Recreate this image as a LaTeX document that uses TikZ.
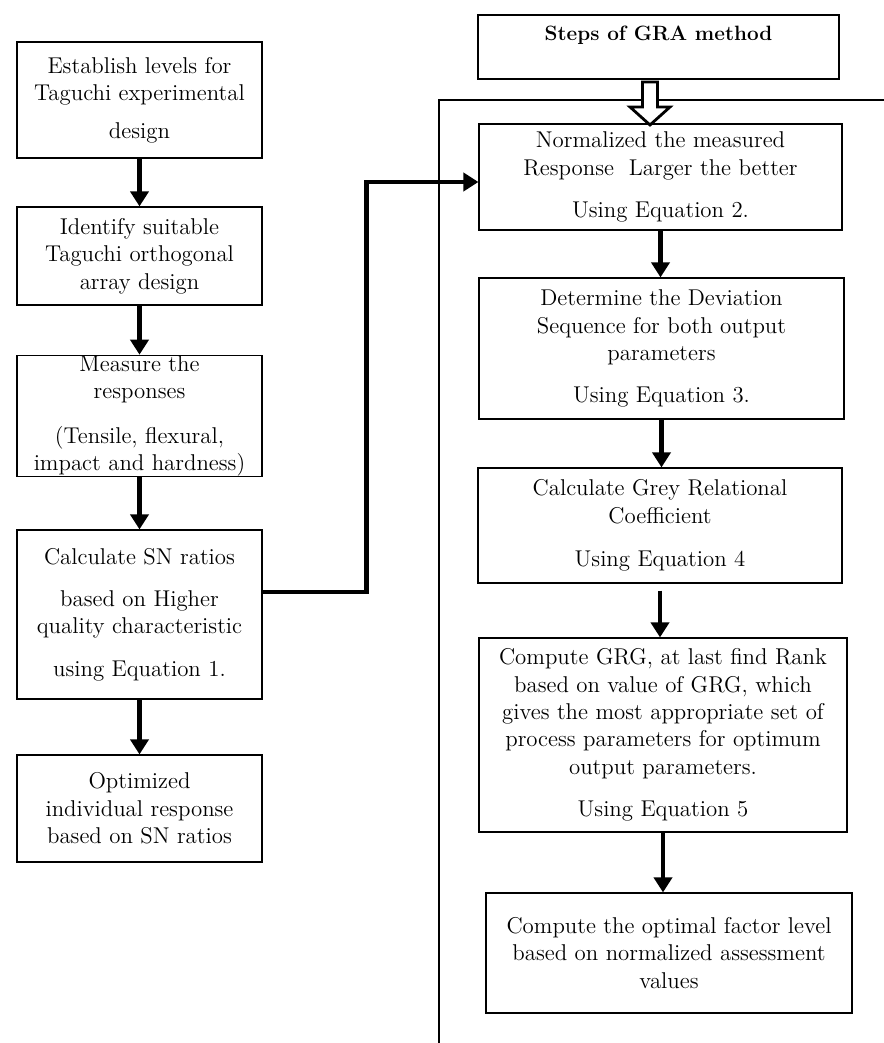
\documentclass[tikz,border=0pt]{standalone}
\usetikzlibrary{arrows.meta}

\tikzset{
  stepbox/.style={draw, line width=0.7pt, align=center, inner sep=0pt,
    font=\fontsize{13}{15.6}\selectfont},
  flow/.style={line width=2.4pt, -{Triangle[width=0.36cm,length=0.3cm]}},
}

\begin{document}
\begin{tikzpicture}[x=0.02cm, y=-0.02cm]
\useasboundingbox (0,0) rectangle (884,1043);

% Taguchi steps
\node[stepbox, minimum width=4.9cm, minimum height=2.32cm] (levels) at (139.5,100)
  {Establish levels for\\Taguchi experimental\\[6pt]design};
\node[stepbox, minimum width=4.9cm, minimum height=1.96cm] (array) at (139.5,256)
  {Identify suitable\\Taguchi orthogonal\\array design};
\node[stepbox, minimum width=4.9cm, minimum height=2.36cm] (measure) at (139.5,416)
  {Measure the\\responses\\[10pt](Tensile, flexural,\\impact and hardness)};
\node[stepbox, minimum width=4.9cm, minimum height=3.38cm] (snratio) at (139.5,614.5)
  {Calculate SN ratios\\[8.5pt]based on Higher\\quality characteristic\\[8.5pt]using Equation 1.};
\node[stepbox, minimum width=4.9cm, minimum height=2.14cm] (optim) at (139.5,808.5)
  {Optimized\\individual response\\based on SN ratios};

% GRA steps
\node[stepbox, minimum width=7.22cm, minimum height=1.28cm,
  font=\fontsize{11.8}{15.6}\selectfont\bfseries] (gra) at (658.5,47)
  {Steps of GRA method\\\mbox{}};
\node[stepbox, minimum width=7.26cm, minimum height=2.12cm] (norm) at (660.5,177)
  {Normalized the measured\\Response~ Larger the better\\[8.5pt]Using Equation 2.};
\node[stepbox, minimum width=7.3cm, minimum height=2.82cm] (deviate) at (661.5,348.5)
  {Determine the Deviation\\Sequence for both output\\parameters\\[8pt]Using Equation 3.};
\node[stepbox, minimum width=7.28cm, minimum height=2.3cm] (coeff) at (660,525.5)
  {Calculate Grey Relational\\Coefficient\\[9pt]Using Equation 4};
\node[stepbox, minimum width=7.36cm, minimum height=3.88cm] (grade) at (663,735)
  {Compute GRG, at last find Rank\\based on value of GRG, which\\gives the most appropriate set of\\process parameters for optimum\\output parameters.\\[8.5pt]Using Equation 5};
\node[stepbox, minimum width=7.32cm, minimum height=2.4cm] (factor) at (669,953)
  {Compute the optimal factor level\\based on normalized assessment\\values};

% frame round the GRA steps
\coordinate (framebot) at (439,1043);
\coordinate (frametop) at (884,100);
\draw[line width=0.6pt] (framebot) |- (frametop);

% hollow arrow
\draw[line width=1.6pt, fill=white] (642.5,82) -- (642.5,107) -- (630,107) -- (650,125)
  -- (670,107) -- (657.5,107) -- (657.5,82) -- cycle;

\draw[flow] (levels) -- (array);
\draw[flow] (array) -- (measure);
\draw[flow] (measure) -- (snratio);
\draw[flow] (snratio) -- (optim);
\draw[flow] ([yshift=0.45cm]snratio.east) -- ++(104,0) |- ([yshift=-0.1cm]norm.west);

\draw[flow] (norm.south) -- (norm.south |- deviate.north);
\draw[flow] (deviate.south) -- (deviate.south |- coeff.north);
\draw[flow, shorten <=4pt] (coeff.south) -- (coeff.south |- grade.north);
\draw[flow] (grade.south) -- (grade.south |- factor.north);
\end{tikzpicture}
\end{document}
